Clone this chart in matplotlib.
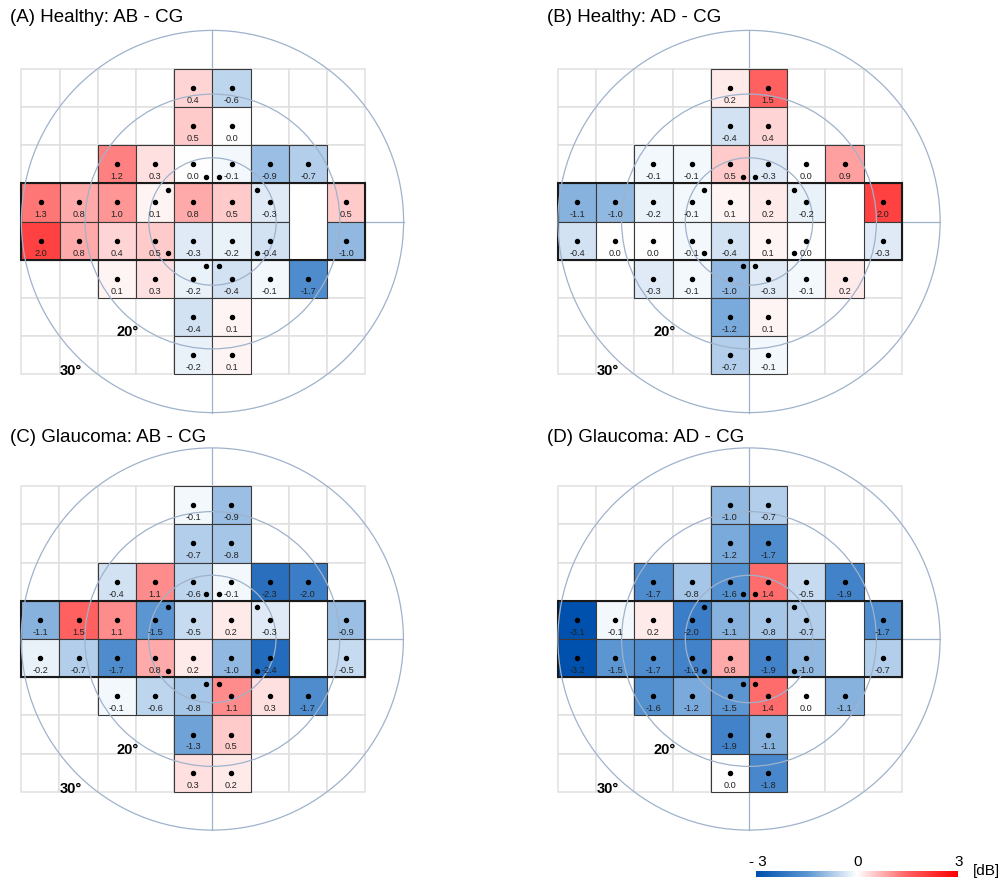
import numpy as np
import matplotlib
matplotlib.use('Agg')
import matplotlib.pyplot as plt
from matplotlib.colors import LinearSegmentedColormap, Normalize
from matplotlib.patches import Rectangle, Circle

plt.rcParams['font.family'] = ['Liberation Sans', 'DejaVu Sans']

# figure size in pixels, and pixels per degree of visual field
W, H = 1008, 882
PX = 6.37

# tested cells: which columns are used in each row (row 0 = top, 9 columns of 6 deg)
row_cols = [
    [4, 5],
    [4, 5],
    [2, 3, 4, 5, 6, 7],
    [0, 1, 2, 3, 4, 5, 6, 8],
    [0, 1, 2, 3, 4, 5, 6, 8],
    [2, 3, 4, 5, 6, 7],
    [4, 5],
    [4, 5],
]
blind_rows = [3, 4]
blind_col = 7

# extra central test points (deg)
extra_x = [-1, 1, -7, 7, -7, 7, -1, 1]
extra_y = [7, 7, 5, 5, -5, -5, -7, -7]

titles = ['(A) Healthy: AB - CG', '(B) Healthy: AD - CG',
          '(C) Glaucoma: AB - CG', '(D) Glaucoma: AD - CG']

healthy_ab = [
    [0.4, -0.6],
    [0.5, 0.0],
    [1.2, 0.3, 0.0, -0.1, -0.9, -0.7],
    [1.3, 0.8, 1.0, 0.1, 0.8, 0.5, -0.3, 0.5],
    [2.0, 0.8, 0.4, 0.5, -0.3, -0.2, -0.4, -1.0],
    [0.1, 0.3, -0.2, -0.4, -0.1, -1.7],
    [-0.4, 0.1],
    [-0.2, 0.1],
]
healthy_ad = [
    [0.2, 1.5],
    [-0.4, 0.4],
    [-0.1, -0.1, 0.5, -0.3, 0.0, 0.9],
    [-1.1, -1.0, -0.2, -0.1, 0.1, 0.2, -0.2, 2.0],
    [-0.4, 0.0, 0.0, -0.1, -0.4, 0.1, 0.0, -0.3],
    [-0.3, -0.1, -1.0, -0.3, -0.1, 0.2],
    [-1.2, 0.1],
    [-0.7, -0.1],
]
glaucoma_ab = [
    [-0.1, -0.9],
    [-0.7, -0.8],
    [-0.4, 1.1, -0.6, -0.1, -2.3, -2.0],
    [-1.1, 1.5, 1.1, -1.5, -0.5, 0.2, -0.3, -0.9],
    [-0.2, -0.7, -1.7, 0.8, 0.2, -1.0, -2.4, -0.5],
    [-0.1, -0.6, -0.8, 1.1, 0.3, -1.7],
    [-1.3, 0.5],
    [0.3, 0.2],
]
glaucoma_ad = [
    [-1.0, -0.7],
    [-1.2, -1.7],
    [-1.7, -0.8, -1.6, 1.4, -0.5, -1.9],
    [-3.1, -0.1, 0.2, -2.0, -1.1, -0.8, -0.7, -1.7],
    [-3.2, -1.5, -1.7, -1.9, 0.8, -1.9, -1.0, -0.7],
    [-1.6, -1.2, -1.5, 1.4, 0.0, -1.1],
    [-1.9, -1.1],
    [0.0, -1.8],
]
panels = [healthy_ab, healthy_ad, glaucoma_ab, glaucoma_ad]

# panel centres (pixels) and title anchors
centres = [(212.5, 221.5), (749, 221.5), (212.3, 639), (749, 639)]
title_pos = [(10, 18), (547, 18), (10, 438), (547, 438)]

cmap = LinearSegmentedColormap.from_list(
    'vf', [(0, '#0050ae'), (0.25, '#5a95d2'), (0.5, '#ffffff'),
           (0.75, '#ff6262'), (1, '#ff0000')])
norm = Normalize(-3, 3)

line_col = '#9fb2cb'
grid_col = '#e0e0e0'


def draw_field(ax, vals):
    # meridians (under the cells)
    ax.plot([0, 0], [-30, 30], color=line_col, lw=0.9, zorder=1)
    ax.plot([-30, 30], [0, 0], color=line_col, lw=0.9, zorder=1)
    # background grid
    for r in range(8):
        for c in range(9):
            ax.add_patch(Rectangle((-30 + 6 * c, 18 - 6 * r), 6, 6, fc='white',
                                   ec=grid_col, lw=1.1, zorder=2))
    # blind spot
    for r in blind_rows:
        ax.add_patch(Rectangle((-30 + 6 * blind_col, 18 - 6 * r), 6, 6,
                               fc='white', ec='none', zorder=3))
    # tested cells
    for r, cols in enumerate(row_cols):
        for c, v in zip(cols, vals[r]):
            x0, y0 = -30 + 6 * c, 18 - 6 * r
            ax.add_patch(Rectangle((x0, y0), 6, 6, fc=cmap(norm(v)),
                                   ec='#3a3a3a', lw=0.8, zorder=3))
            ax.plot(x0 + 3, y0 + 3, 'o', color='black', ms=2.9, zorder=6)
            ax.text(x0 + 3, y0 + 3 - 1.95, '%.1f' % v, ha='center', va='center',
                    fontsize=6.6, color='#222222', zorder=6)
    # band around the two middle rows
    ax.add_patch(Rectangle((-30, -6), 54, 12, fc='none', ec='#1a1a1a',
                           lw=1.5, zorder=4))
    ax.plot(extra_x, extra_y, 'o', color='black', ms=2.9, ls='none', zorder=6)
    # eccentricity rings
    for rad in (10, 20, 30):
        ax.add_patch(Circle((0, 0), rad, fc='none', ec=line_col, lw=0.9,
                            zorder=5))
    ax.text(-13.3, -17.4, '20°', ha='center', va='center', fontsize=10.5,
            fontweight='bold', zorder=6)
    ax.text(-22.2, -23.5, '30°', ha='center', va='center', fontsize=10.5,
            fontweight='bold', zorder=6)


fig = plt.figure(figsize=(W / 100, H / 100), dpi=100)
R = 32
for (cx, cy), (tx, ty), title, vals in zip(centres, title_pos, titles, panels):
    ax = fig.add_axes([(cx - R * PX) / W, (H - cy - R * PX) / H,
                       2 * R * PX / W, 2 * R * PX / H])
    ax.set_xlim(-R, R)
    ax.set_ylim(-R, R)
    ax.axis('off')
    draw_field(ax, vals)
    fig.text(tx / W, 1 - ty / H, title, fontsize=13.5, ha='left', va='center')

# colour bar
cax = fig.add_axes([756 / W, 1 - 877 / H, 202 / W, 6 / H])
cax.imshow(np.linspace(-3, 3, 300)[None, :], aspect='auto', cmap=cmap, norm=norm)
cax.axis('off')
fig.text(758 / W, 1 - 862 / H, '- 3', fontsize=11, ha='center', va='center')
fig.text(858 / W, 1 - 862 / H, '0', fontsize=11, ha='center', va='center')
fig.text(959 / W, 1 - 862 / H, '3', fontsize=11, ha='center', va='center')
fig.text(973 / W, 1 - 871 / H, '[dB]', fontsize=11, ha='left', va='center')

fig.savefig('out.png', dpi=100)
